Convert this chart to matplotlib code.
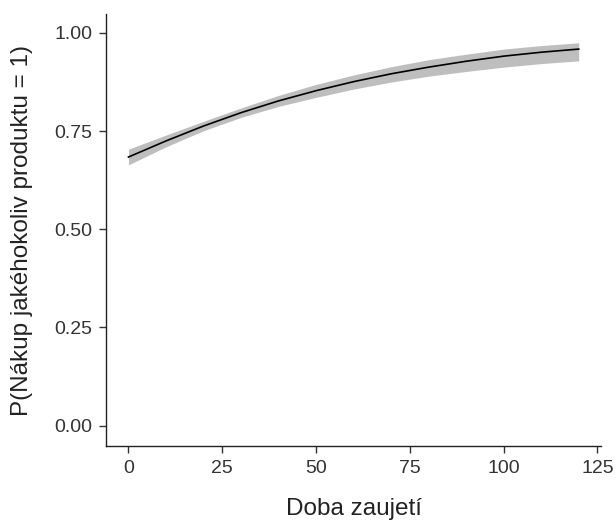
import matplotlib
matplotlib.use("Agg")
import matplotlib.pyplot as plt

doba = [0, 10, 20, 30, 40, 50, 60, 70, 80, 90, 100, 110, 120]
p_fit = [0.684, 0.725, 0.763, 0.797, 0.827, 0.853, 0.876, 0.896, 0.913, 0.928, 0.941, 0.951, 0.959]
p_low = [0.664, 0.710, 0.751, 0.785, 0.813, 0.836, 0.857, 0.875, 0.890, 0.902, 0.913, 0.922, 0.929]
p_high = [0.704, 0.740, 0.775, 0.809, 0.841, 0.869, 0.893, 0.914, 0.932, 0.946, 0.959, 0.968, 0.975]

x_ticks = [0, 25, 50, 75, 100, 125]
y_ticks = [0.00, 0.25, 0.50, 0.75, 1.00]

plt.rcParams['font.family'] = ['Liberation Sans', 'DejaVu Sans']

fig = plt.figure(figsize=(6.16, 5.24), dpi=100)
ax = fig.add_axes([0.172, 0.149, 0.804, 0.824])

ax.fill_between(doba, p_low, p_high, color='#bebebe', linewidth=0)
ax.plot(doba, p_fit, color='black', linewidth=1.2)

ax.set_xlim(-6, 126)
ax.set_ylim(-0.052, 1.048)
ax.set_xticks(x_ticks)
ax.set_yticks(y_ticks)
ax.set_yticklabels(['%.2f' % v for v in y_ticks])

for s in ['top', 'right']:
    ax.spines[s].set_visible(False)
for s in ['left', 'bottom']:
    ax.spines[s].set_linewidth(1.0)
    ax.spines[s].set_color('#222222')

ax.tick_params(length=5, width=1.0, color='#333333', labelsize=14,
               labelcolor='#333333', pad=5)

ax.set_xlabel('Doba zaujetí', fontsize=17.5, labelpad=15, color='#222222')
ax.set_ylabel('P(Nákup jakéhokoliv produktu = 1)', fontsize=17.5, labelpad=15,
              color='#222222')

fig.savefig('out.png', dpi=100)
